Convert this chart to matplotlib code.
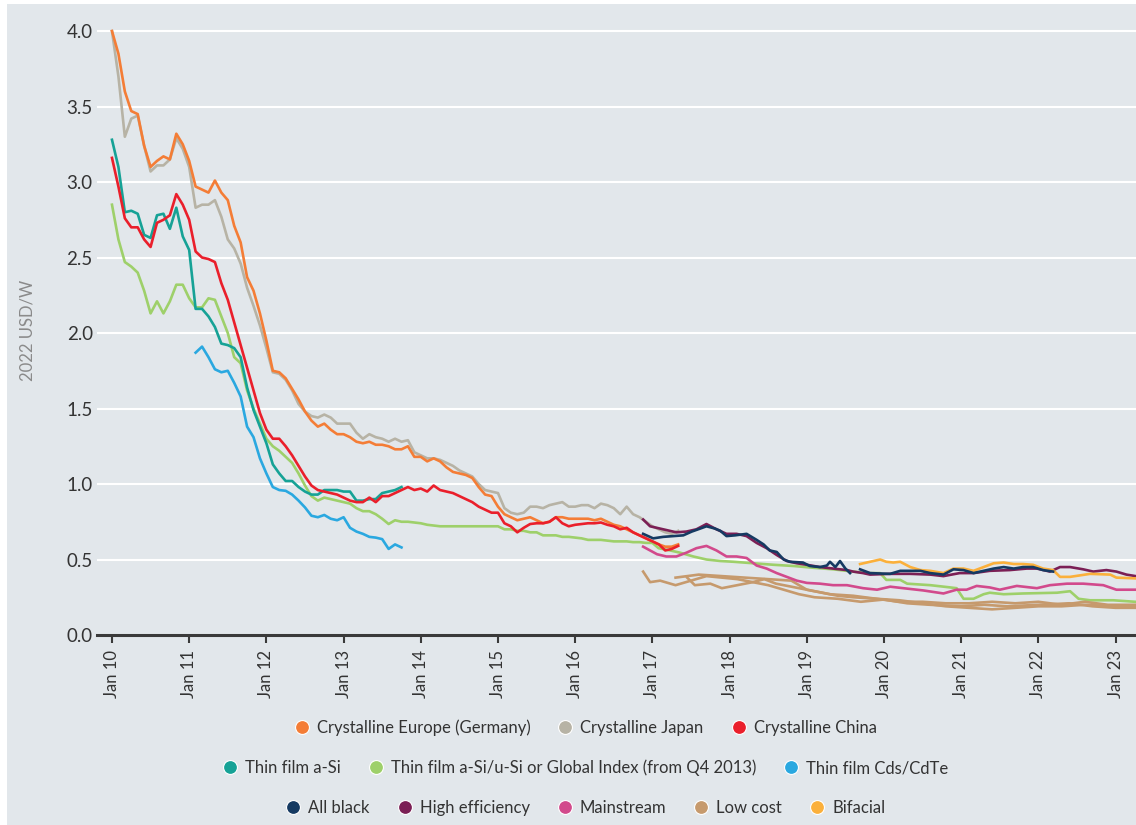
import numpy as np
import matplotlib
matplotlib.use('Agg')
from matplotlib import pyplot as plt
from matplotlib.lines import Line2D
from matplotlib.patches import Rectangle

# monthly series, first value = start month (year, month)
europe_start = (2010, 1)
europe = [4.00, 3.85, 3.60, 3.47, 3.45, 3.24, 3.10, 3.14, 3.17, 3.15, 3.32, 3.25,
          3.14, 2.97, 2.95, 2.93, 3.01, 2.93, 2.88, 2.71, 2.60, 2.37, 2.28, 2.13,
          1.95, 1.75, 1.74, 1.70, 1.63, 1.56, 1.48, 1.42, 1.38, 1.40, 1.36, 1.33,
          1.33, 1.31, 1.28, 1.27, 1.28, 1.26, 1.26, 1.25, 1.23, 1.23, 1.25, 1.18,
          1.18, 1.15, 1.17, 1.15, 1.11, 1.08, 1.07, 1.06, 1.04, 0.98, 0.93, 0.92,
          0.85, 0.80, 0.78, 0.76, 0.77, 0.78, 0.76, 0.74, 0.75, 0.78, 0.78, 0.77,
          0.77, 0.77, 0.77, 0.76, 0.77, 0.75, 0.73, 0.72, 0.70, 0.68, 0.66, 0.64,
          0.62, 0.60, 0.585, 0.585, 0.60]

japan_start = (2010, 1)
japan = [4.00, 3.70, 3.30, 3.42, 3.44, 3.24, 3.07, 3.11, 3.11, 3.15, 3.29, 3.22,
         3.10, 2.83, 2.85, 2.85, 2.88, 2.77, 2.62, 2.56, 2.46, 2.30, 2.18, 2.05,
         1.90, 1.74, 1.73, 1.69, 1.62, 1.53, 1.48, 1.45, 1.44, 1.46, 1.44, 1.40,
         1.40, 1.40, 1.34, 1.30, 1.33, 1.31, 1.30, 1.28, 1.30, 1.28, 1.29, 1.21,
         1.19, 1.17, 1.17, 1.16, 1.14, 1.12, 1.09, 1.07, 1.05, 1.00, 0.96, 0.95,
         0.94, 0.84, 0.81, 0.80, 0.81, 0.85, 0.85, 0.84, 0.86, 0.87, 0.88, 0.85,
         0.85, 0.86, 0.86, 0.84, 0.87, 0.86, 0.84, 0.80, 0.85, 0.80, 0.78, 0.75,
         0.72, 0.70, 0.68, 0.67, 0.69]

china_start = (2010, 1)
china = [3.16, 2.97, 2.76, 2.70, 2.70, 2.62, 2.57, 2.73, 2.75, 2.78, 2.92, 2.85,
         2.75, 2.54, 2.50, 2.49, 2.47, 2.33, 2.22, 2.07, 1.92, 1.77, 1.62, 1.47,
         1.36, 1.30, 1.30, 1.25, 1.19, 1.12, 1.05, 0.99, 0.96, 0.95, 0.94, 0.93,
         0.91, 0.89, 0.88, 0.88, 0.91, 0.88, 0.92, 0.92, 0.94, 0.96, 0.98, 0.96,
         0.97, 0.95, 0.99, 0.96, 0.95, 0.94, 0.92, 0.90, 0.88, 0.85, 0.83, 0.81,
         0.81, 0.74, 0.72, 0.68, 0.71, 0.735, 0.74, 0.74, 0.75, 0.78, 0.74, 0.72,
         0.73, 0.735, 0.74, 0.74, 0.745, 0.73, 0.72, 0.70, 0.71, 0.68, 0.66, 0.64,
         0.62, 0.60, 0.56, 0.57, 0.59]

asi_start = (2010, 1)
asi = [3.28, 3.10, 2.80, 2.81, 2.79, 2.65, 2.63, 2.78, 2.79, 2.69, 2.83, 2.64,
       2.55, 2.16, 2.16, 2.11, 2.04, 1.93, 1.92, 1.90, 1.84, 1.64, 1.49, 1.38,
       1.27, 1.13, 1.07, 1.02, 1.02, 0.98, 0.95, 0.93, 0.93, 0.96, 0.96, 0.96,
       0.95, 0.95, 0.89, 0.89, 0.90, 0.90, 0.94, 0.95, 0.96, 0.98]

global_start = (2010, 1)
global_idx = [2.85, 2.62, 2.47, 2.44, 2.40, 2.28, 2.13, 2.21, 2.13, 2.21, 2.32, 2.32,
              2.23, 2.17, 2.17, 2.23, 2.22, 2.11, 2.00, 1.84, 1.80, 1.62, 1.50, 1.40,
              1.30, 1.25, 1.22, 1.18, 1.14, 1.07, 0.99, 0.92, 0.89, 0.91, 0.90, 0.89,
              0.88, 0.87, 0.84, 0.82, 0.82, 0.80, 0.77, 0.735, 0.76, 0.75, 0.75, 0.745,
              0.74, 0.73, 0.725, 0.72, 0.72, 0.72, 0.72, 0.72, 0.72, 0.72, 0.72, 0.72,
              0.72, 0.70, 0.70, 0.69, 0.69, 0.68, 0.68, 0.66, 0.66, 0.66, 0.65, 0.65,
              0.645, 0.64, 0.63, 0.63, 0.63, 0.625, 0.62, 0.62, 0.62, 0.615, 0.615, 0.61,
              0.61]
global_tail_x = [2017.08, 2017.23, 2017.36, 2017.53, 2017.70, 2017.88, 2018.05, 2018.31,
                 2018.57, 2018.83, 2019.09, 2019.34, 2019.60, 2019.78, 2019.95, 2020.03,
                 2020.21, 2020.30, 2020.60, 2020.86, 2020.94, 2021.03, 2021.16, 2021.29,
                 2021.37, 2021.55, 2021.80, 2022.24, 2022.41, 2022.52, 2022.67, 2022.97,
                 2023.25]
global_tail = [0.575, 0.56, 0.545, 0.52, 0.50, 0.49, 0.485, 0.475,
               0.465, 0.457, 0.445, 0.435, 0.42, 0.41, 0.41, 0.365,
               0.365, 0.34, 0.33, 0.315, 0.31, 0.24, 0.24, 0.27,
               0.28, 0.27, 0.275, 0.28, 0.29, 0.24, 0.23, 0.23,
               0.22]

cdte_start = (2011, 2)
cdte = [1.87, 1.91, 1.84, 1.76, 1.74, 1.75, 1.67, 1.58, 1.38, 1.31, 1.17,
        1.07, 0.98, 0.96, 0.955, 0.93, 0.89, 0.845, 0.79, 0.78, 0.795, 0.77, 0.76,
        0.78, 0.71, 0.685, 0.67, 0.65, 0.645, 0.635, 0.57, 0.60, 0.58]

# module-type series (decimal year, value)
black_x = [2016.88, 2017.01, 2017.14, 2017.27, 2017.40, 2017.51, 2017.62, 2017.70, 2017.81,
           2017.88, 2017.96, 2018.07, 2018.22, 2018.35, 2018.44, 2018.52, 2018.61, 2018.70,
           2018.78, 2018.95, 2019.04, 2019.17, 2019.26, 2019.30, 2019.37, 2019.43, 2019.50,
           2019.56, 2019.62, 2019.69, 2019.82, 2020.08, 2020.21, 2020.47, 2020.60, 2020.77,
           2020.90, 2021.03, 2021.16, 2021.29, 2021.42, 2021.55, 2021.68, 2021.80, 2021.93,
           2022.06, 2022.19]
black = [0.67, 0.64, 0.65, 0.655, 0.66, 0.685, 0.705, 0.72, 0.705,
         0.69, 0.655, 0.66, 0.67, 0.63, 0.60, 0.56, 0.55, 0.50,
         0.485, 0.48, 0.457, 0.45, 0.46, 0.485, 0.45, 0.49, 0.44,
         0.41, np.nan, 0.435, 0.41, 0.405, 0.425, 0.425, 0.41, 0.40,
         0.435, 0.43, 0.41, 0.425, 0.44, 0.45, 0.44, 0.45, 0.45,
         0.43, 0.42]

higheff_x = [2016.88, 2016.97, 2017.14, 2017.31, 2017.44, 2017.57, 2017.70, 2017.83, 2017.96,
             2018.09, 2018.22, 2018.35, 2018.48, 2018.61, 2018.74, 2018.87, 2019.00, 2019.17,
             2019.34, 2019.52, 2019.60, 2019.73, 2019.82, 2020.08, 2020.34, 2020.60, 2020.77,
             2020.98, 2021.16, 2021.37, 2021.63, 2021.85, 2021.98, 2022.15, 2022.28, 2022.41,
             2022.58, 2022.71, 2022.88, 2023.01, 2023.14, 2023.26]
higheff = [0.765, 0.72, 0.70, 0.68, 0.685, 0.70, 0.735, 0.70, 0.67,
           0.67, 0.655, 0.61, 0.575, 0.53, 0.49, 0.475, 0.465, 0.45,
           0.44, 0.43, 0.42, 0.41, 0.40, 0.405, 0.405, 0.40, 0.39,
           0.41, 0.41, 0.425, 0.43, 0.44, 0.44, 0.42, 0.45, 0.45,
           0.435, 0.42, 0.43, 0.42, 0.40, 0.39]

mainstream_x = [2016.88, 2016.97, 2017.06, 2017.18, 2017.31, 2017.44, 2017.57, 2017.70, 2017.83,
                2017.96, 2018.09, 2018.22, 2018.35, 2018.48, 2018.61, 2018.74, 2018.87, 2019.00,
                2019.17, 2019.34, 2019.52, 2019.73, 2019.91, 2020.08, 2020.25, 2020.51, 2020.77,
                2020.94, 2021.07, 2021.20, 2021.37, 2021.50, 2021.72, 2021.98, 2022.15, 2022.37,
                2022.58, 2022.84, 2023.01, 2023.26]
mainstream = [0.585, 0.56, 0.535, 0.52, 0.52, 0.545, 0.575, 0.59, 0.56,
              0.52, 0.52, 0.51, 0.46, 0.44, 0.41, 0.385, 0.36, 0.345,
              0.34, 0.33, 0.33, 0.31, 0.30, 0.32, 0.31, 0.295, 0.275,
              0.30, 0.30, 0.325, 0.315, 0.30, 0.325, 0.31, 0.33, 0.34,
              0.34, 0.33, 0.30, 0.30]

lowcost_a_x = [2016.88, 2016.97, 2017.10, 2017.30, 2017.50, 2017.70, 2017.90, 2018.10, 2018.30,
               2018.50, 2018.70, 2018.90, 2019.10, 2019.40, 2019.70, 2020.00, 2020.30, 2020.60,
               2021.00, 2021.30, 2021.60, 2022.00, 2022.40, 2022.70, 2023.00, 2023.25]
lowcost_a = [0.42, 0.35, 0.36, 0.33, 0.36, 0.39, 0.38, 0.37, 0.35,
             0.33, 0.30, 0.27, 0.25, 0.24, 0.22, 0.235, 0.21, 0.20,
             0.19, 0.20, 0.19, 0.20, 0.21, 0.19, 0.18, 0.18]
lowcost_b_x = [2017.45, 2017.55, 2017.75, 2017.90, 2018.10, 2018.30, 2018.45, 2018.60, 2018.80,
               2019.00, 2019.20, 2019.40, 2019.60, 2019.90, 2020.20, 2020.50, 2020.80, 2021.10,
               2021.40, 2021.70, 2022.00, 2022.30, 2022.60, 2022.90, 2023.25]
lowcost_b = [0.38, 0.33, 0.34, 0.31, 0.33, 0.35, 0.37, 0.34, 0.32,
             0.30, 0.28, 0.26, 0.25, 0.24, 0.22, 0.22, 0.21, 0.21,
             0.22, 0.21, 0.22, 0.20, 0.22, 0.20, 0.20]
lowcost_c_x = [2017.30, 2017.60, 2017.90, 2018.20, 2018.50, 2018.80, 2019.00, 2019.30, 2019.60,
               2019.90, 2020.20, 2020.50, 2020.80, 2021.10, 2021.40, 2021.70, 2022.00, 2022.30,
               2022.60, 2023.00, 2023.25]
lowcost_c = [0.38, 0.40, 0.39, 0.38, 0.37, 0.36, 0.30, 0.27, 0.26,
             0.24, 0.23, 0.21, 0.19, 0.18, 0.17, 0.18, 0.19, 0.19,
             0.20, 0.19, 0.19]

bifacial_x = [2019.69, 2019.82, 2019.95, 2020.03, 2020.12, 2020.21, 2020.34, 2020.47, 2020.60,
              2020.77, 2020.90, 2021.03, 2021.16, 2021.29, 2021.42, 2021.55, 2021.68, 2021.80,
              2021.93, 2022.06, 2022.19, 2022.28, 2022.41, 2022.67, 2022.93, 2023.01, 2023.26]
bifacial = [0.47, 0.485, 0.50, 0.485, 0.48, 0.485, 0.45, 0.43, 0.425,
            0.41, 0.44, 0.44, 0.425, 0.45, 0.475, 0.48, 0.47, 0.47,
            0.465, 0.44, 0.43, 0.385, 0.385, 0.405, 0.40, 0.38, 0.375]

years = list(range(2010, 2024))
tick_labels = ['Jan %02d' % (y % 100) for y in years]

c_europe = '#f47d36'
c_japan = '#b7b3a5'
c_china = '#ea1f2b'
c_asi = '#16a296'
c_global = '#9ed06a'
c_cdte = '#2aa8e0'
c_black = '#153a62'
c_higheff = '#7b1f55'
c_main = '#d24a8c'
c_low = '#c69a6d'
c_bif = '#fbb03b'

bg = '#e2e7eb'
text_c = '#333333'


def monthly_x(start, n):
    return start[0] + (start[1] - 1) / 12 + np.arange(n) / 12


plt.rcParams['font.family'] = ['Lato', 'DejaVu Sans']

fig = plt.figure(figsize=(11.36, 8.25), dpi=100, facecolor='white')
fig.patches.append(Rectangle((7 / 1136, 0), 1, (825 - 4) / 825, transform=fig.transFigure,
                             facecolor=bg, edgecolor='none', zorder=-10))
ax = fig.add_axes([97 / 1136, 190 / 825, 1039 / 1136, 611.5 / 825])
ax.set_facecolor(bg)

lw = 1.9
ax.plot(monthly_x(japan_start, len(japan)), japan, color=c_japan, lw=lw)
ax.plot(monthly_x(europe_start, len(europe)), europe, color=c_europe, lw=lw)
gx = np.concatenate([monthly_x(global_start, len(global_idx)), global_tail_x])
gy = np.concatenate([global_idx, global_tail])
ax.plot(gx, gy, color=c_global, lw=lw)
ax.plot(monthly_x(asi_start, len(asi)), asi, color=c_asi, lw=lw)
ax.plot(monthly_x(china_start, len(china)), china, color=c_china, lw=lw)
ax.plot(monthly_x(cdte_start, len(cdte)), cdte, color=c_cdte, lw=lw)
ax.plot(lowcost_a_x, lowcost_a, color=c_low, lw=lw)
ax.plot(lowcost_b_x, lowcost_b, color=c_low, lw=lw)
ax.plot(lowcost_c_x, lowcost_c, color=c_low, lw=lw)
ax.plot(mainstream_x, mainstream, color=c_main, lw=lw)
ax.plot(higheff_x, higheff, color=c_higheff, lw=lw)
ax.plot(bifacial_x, bifacial, color=c_bif, lw=lw)
ax.plot(black_x, black, color=c_black, lw=lw)

ax.set_xlim(2009.806, 2023.264)
ax.set_ylim(0, 4.05)
ax.set_yticks(np.arange(0, 4.01, 0.5))
ax.set_yticklabels(['%.1f' % v for v in np.arange(0, 4.01, 0.5)])
ax.set_xticks(years)
ax.set_xticklabels(tick_labels, rotation=90)
ax.grid(axis='y', color='white', lw=1.5)
ax.set_axisbelow(True)
for s in ['top', 'right', 'left']:
    ax.spines[s].set_visible(False)
ax.spines['bottom'].set_color('#3a3a3a')
ax.spines['bottom'].set_linewidth(2.2)
ax.tick_params(axis='y', length=0, labelsize=13.5, labelcolor=text_c, pad=3)
ax.tick_params(axis='x', length=6, width=1.5, color='#3a3a3a', labelsize=12,
               labelcolor=text_c, pad=5)
fig.text(28 / 1136, 1 - 330 / 825, '2022 USD/W', rotation=90, ha='center', va='center',
         fontsize=12, color='#8a8a8a')


def handles(items):
    return [Line2D([], [], marker='o', ls='none', markersize=10, markerfacecolor=c,
                   markeredgecolor='white', markeredgewidth=0.8, label=l) for l, c in items]


rows = [
    [('Crystalline Europe (Germany)', c_europe), ('Crystalline Japan', c_japan),
     ('Crystalline China', c_china)],
    [('Thin film a-Si', c_asi), ('Thin film a-Si/u-Si or Global Index (from Q4 2013)', c_global),
     ('Thin film Cds/CdTe', c_cdte)],
    [('All black', c_black), ('High efficiency', c_higheff), ('Mainstream', c_main),
     ('Low cost', c_low), ('Bifacial', c_bif)],
]
row_y = [728, 768, 808]
for items, y in zip(rows, row_y):
    fig.legend(handles=handles(items), loc='center', bbox_to_anchor=(585 / 1136, 1 - y / 825),
               ncol=len(items), frameon=False, fontsize=12, labelcolor=text_c,
               handletextpad=0.4, columnspacing=1.6, handlelength=1.0)

fig.savefig('out.png', dpi=100, facecolor=fig.get_facecolor())
